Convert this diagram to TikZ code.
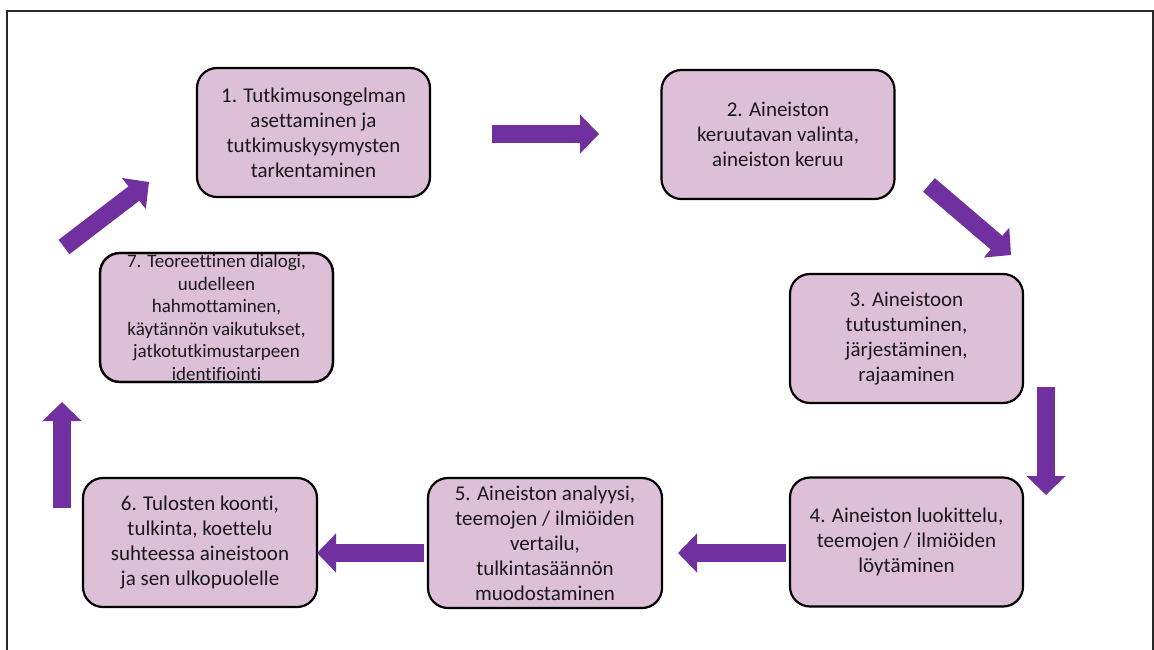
\documentclass[tikz,border=0pt]{standalone}
\usepackage{fontspec}
\setmainfont{Carlito}[Ligatures={NoCommon}]
\usetikzlibrary{arrows.meta}
\definecolor{boxfill}{RGB}{221,192,216}
\definecolor{arrowpurple}{RGB}{112,48,160}
\definecolor{txt}{RGB}{25,25,25}
\definecolor{framecol}{RGB}{40,40,40}
\tikzset{
  stepbox/.style={draw=black, line width=2.2pt, fill=boxfill, rounded corners=20pt,
    minimum width=233pt, minimum height=129pt, inner sep=0pt, outer sep=0pt,
    align=center, text=txt, font=\fontsize{21}{25}\selectfont},
  emptybox/.style={stepbox, font=\fontsize{1}{1}\selectfont},
  borderonly/.style={draw=black, line width=2.2pt, rounded corners=20pt},
  bigarrow/.style={draw=arrowpurple, line width=18pt,
    -{Triangle[width=38pt,length=19pt,fill=arrowpurple]}},
}
\begin{document}
\begin{tikzpicture}[x=1pt,y=-1pt]
\useasboundingbox (0,0) rectangle (1154,650);
\fill[white] (0,0) rectangle (1154,650);
\draw[framecol, line width=1.6pt] (7,660) -- (7,11) -- (1153,11) -- (1153,660);

\node[stepbox] (box1) at (313.5,132.5) {1. Tutkimusongelman\\asettaminen ja\\tutkimuskysymysten\\tarkentaminen};
\node[stepbox] (box2) at (778,134.5) {2. Aineiston\\keruutavan valinta,\\aineiston keruu};
\node[stepbox] (box3) at (906.5,338.5) {3. Aineistoon\\tutustuminen,\\järjestäminen,\\rajaaminen};
\node[stepbox] (box4) at (906.5,542) {4. Aineiston luokittelu,\\teemojen / ilmiöiden\\löytäminen};
\node[stepbox, minimum width=234pt, minimum height=130pt] (box5) at (545,543) {5. Aineiston analyysi,\\teemojen / ilmiöiden\\vertailu,\\tulkintasäännön\\muodostaminen};
\node[stepbox, minimum width=234pt] (box6) at (200,542.5) {6. Tulosten koonti,\\tulkinta, koettelu\\suhteessa aineistoon\\ja sen ulkopuolelle};
\node[emptybox] (box7) at (216.5,317.5) {};
\begin{scope}
  \clip[rounded corners=20pt] (box7.south west) rectangle (box7.north east);
  \node[align=center, text=txt, font=\fontsize{19}{22.6}\selectfont, inner sep=0pt] (box7text) at (box7.center)
    {7. Teoreettinen dialogi,\\uudelleen\\hahmottaminen,\\käytännön vaikutukset,\\jatkotutkimustarpeen\\identifiointi};
\end{scope}
\draw[borderonly] (box7.south west) rectangle (box7.north east);

\coordinate (a12s) at (492,134);  \coordinate (a12e) at (599,134);
\coordinate (a23s) at (929,185);  \coordinate (a23e) at (1011,255);
\coordinate (a34s) at (1046,387); \coordinate (a34e) at (1046,495);
\coordinate (a45s) at (786,553);  \coordinate (a45e) at (678,553);
\coordinate (a56s) at (424,553);  \coordinate (a56e) at (317,553);
\coordinate (a67s) at (62,508);   \coordinate (a67e) at (62,402);
\coordinate (a71s) at (64,247);   \coordinate (a71e) at (149,182);

\draw[bigarrow] (a12s) -- (a12e);
\draw[bigarrow] (a23s) -- (a23e);
\draw[bigarrow] (a34s) -- (a34e);
\draw[bigarrow] (a45s) -- (a45e);
\draw[bigarrow] (a56s) -- (a56e);
\draw[bigarrow] (a67s) -- (a67e);
\draw[bigarrow] (a71s) -- (a71e);
\end{tikzpicture}
\end{document}
